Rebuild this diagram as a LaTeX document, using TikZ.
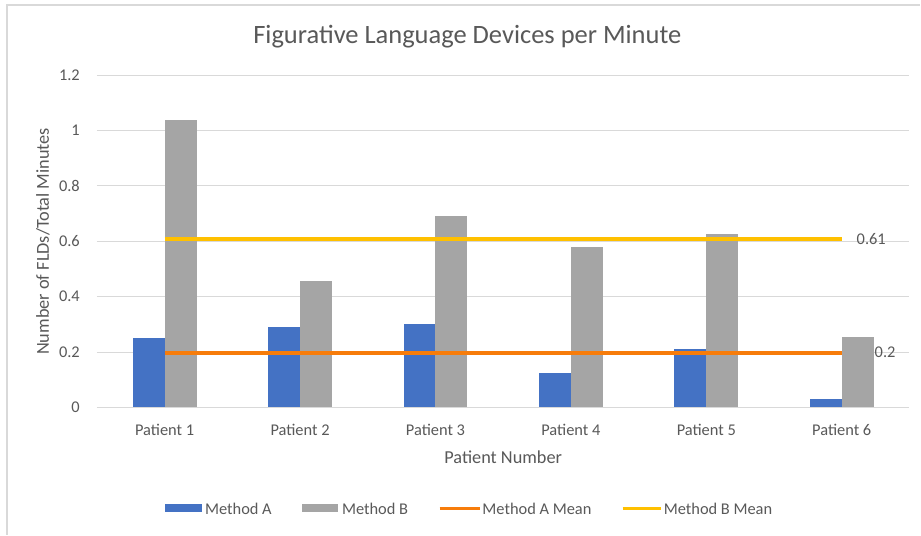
\documentclass[tikz,border=0pt]{standalone}
\usepackage{fontspec}
\setmainfont{Carlito}

\definecolor{txtgray}{HTML}{595959}
\definecolor{gridgray}{HTML}{D9D9D9}
\definecolor{barA}{HTML}{4472C4}
\definecolor{barB}{HTML}{A5A5A5}
\definecolor{meanA}{RGB}{247,124,10}
\definecolor{meanB}{HTML}{FFC000}

\begin{document}
\begin{tikzpicture}[x=0.03cm,y=0.03cm,
  every node/.style={text=txtgray,font=\fontsize{14}{16}\selectfont},
  grid/.style={draw=gridgray,line width=0.85pt},
  meanline/.style={line width=2.8pt},
  legtext/.style={anchor=west,inner sep=0pt}]
\fill[white] (0,0) rectangle (921,535);
\draw[gridgray,line width=1pt] (7,0) -- (7,530) -- (921,530);

\node (title) at (467.6,498) {\fontsize{22.6}{25}\selectfont Figurative Language Devices per Minute};

% plot area: one unit per patient across, one unit per FLD/min up
\begin{scope}[shift={(97,127.3)},xscale=135.5,yscale=277]
\foreach \v/\n in {0/0,0.2/1,0.4/2,0.6/3,0.8/4,1/5,1.2/6}{
  \draw[grid] (0,\v) -- (6,\v);
  \node[anchor=east,inner sep=0pt] (ytick\n) at (-0.125,\v) {\v};
}

\fill[barA] (0.264,0) rectangle (0.5,0.25);
\fill[barB] (0.5,0) rectangle (0.736,1.04);
\fill[barA] (1.264,0) rectangle (1.5,0.29);
\fill[barB] (1.5,0) rectangle (1.736,0.455);
\fill[barA] (2.264,0) rectangle (2.5,0.30);
\fill[barB] (2.5,0) rectangle (2.736,0.69);
\fill[barA] (3.264,0) rectangle (3.5,0.126);
\fill[barB] (3.5,0) rectangle (3.736,0.579);
\fill[barA] (4.264,0) rectangle (4.5,0.212);
\fill[barB] (4.5,0) rectangle (4.736,0.627);
\fill[barA] (5.264,0) rectangle (5.5,0.031);
\fill[barB] (5.5,0) rectangle (5.736,0.256);

\draw[meanline,meanA] (0.5,0.197) -- (5.5,0.197);
\draw[meanline,meanB] (0.5,0.608) -- (5.5,0.608);
\node[legtext] (meanAval) at (5.742,0.2) {0.2};
\node[legtext] (meanBval) at (5.609,0.608) {0.61};

\node (p1) at (0.5,-0.0805) {Patient 1};
\node (p2) at (1.5,-0.0805) {Patient 2};
\node (p3) at (2.5,-0.0805) {Patient 3};
\node (p4) at (3.5,-0.0805) {Patient 4};
\node (p5) at (4.5,-0.0805) {Patient 5};
\node (p6) at (5.5,-0.0805) {Patient 6};

\node[font=\fontsize{15.6}{18}\selectfont] (xtitle) at (3,-0.1816) {Patient Number};
\node[font=\fontsize{15.6}{18}\selectfont,rotate=90] (ytitle) at (-0.399,0.6) {Number of FLDs/Total Minutes};
\end{scope}

% legend
\fill[barA] (165,22.3) rectangle (201.7,30.3);
\node[legtext] (legA) at (205,26.3) {Method A};
\fill[barB] (301.7,22.3) rectangle (338,30.3);
\node[legtext] (legB) at (342,26.3) {Method B};
\draw[meanline,meanA] (440,26.3) -- (480,26.3);
\node[legtext] (legmA) at (482.5,26.3) {Method A Mean};
\draw[meanline,meanB] (623,26.3) -- (661.7,26.3);
\node[legtext] (legmB) at (664,26.3) {Method B Mean};
\end{tikzpicture}
\end{document}
